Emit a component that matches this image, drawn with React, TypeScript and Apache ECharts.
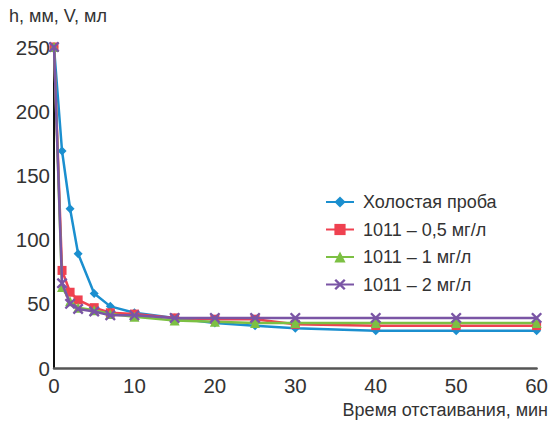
import React, { useEffect, useRef } from "react";
import * as echarts from "echarts";

const times = [0, 1, 2, 3, 5, 7, 10, 15, 20, 25, 30, 40, 50, 60];
const blank = [250, 169, 124, 89, 58, 48, 43, 39, 35, 33, 31, 29, 29, 29];
const dose05 = [250, 76, 59, 53, 47, 43, 42, 39, 38, 38, 34, 33, 33, 33];
const dose1 = [250, 63, 52, 47, 45, 42, 40, 37, 36, 35, 35, 35, 35, 35];
const dose2 = [250, 66, 50, 46, 44, 41, 41, 39, 39, 39, 39, 39, 39, 39];
const seriesNames = ["Холостая проба", "1011 – 0,5 мг/л", "1011 – 1 мг/л", "1011 – 2 мг/л"];
const xTicks = [0, 10, 20, 30, 40, 50, 60];
const yTicks = [0, 50, 100, 150, 200, 250];

const colors = ["#1b8fcf", "#ef4150", "#7cc043", "#7a55a5"];
const xSymbol =
  "path://M1.5,0 L5,3.5 L8.5,0 L10,1.5 L6.5,5 L10,8.5 L8.5,10 L5,6.5 L1.5,10 L0,8.5 L3.5,5 L0,1.5 Z";
const symbols = ["diamond", "rect", "triangle", xSymbol];
const symbolSizes = [9, 9, 10, 11];

export default function App() {
  const ref = useRef<HTMLDivElement>(null);
  useEffect(() => {
    if (!ref.current) return;
    const chart = echarts.init(ref.current, null, { renderer: "svg" });
    const all = [blank, dose05, dose1, dose2];
    const font = "Liberation Sans, Arial, sans-serif";
    chart.setOption({
      animation: false,
      backgroundColor: "#ffffff",
      textStyle: { fontFamily: font },
      grid: { left: 54, right: 14, top: 47, bottom: 57, containLabel: false },
      legend: {
        orient: "vertical",
        left: 325,
        top: 193,
        padding: 0,
        itemWidth: 28,
        itemHeight: 14,
        itemGap: 9.5,
        textStyle: { fontSize: 18, color: "#333", fontFamily: font, padding: [0, 0, 0, 4] },
        data: seriesNames,
      },
      xAxis: {
        type: "value",
        min: 0,
        max: 60,
        interval: 10,
        axisLine: { show: true, lineStyle: { color: "#555", width: 2.5 } },
        axisTick: { show: false },
        splitLine: { show: false },
        axisLabel: {
          fontSize: 20.5,
          color: "#333",
          margin: 7,
          customValues: xTicks,
          formatter: (v: number) => String(v),
        },
      },
      yAxis: {
        type: "value",
        min: 0,
        max: 250,
        interval: 50,
        axisLine: { show: true, lineStyle: { color: "#111", width: 2 } },
        axisTick: { show: false },
        splitLine: { show: false },
        axisLabel: {
          fontSize: 20.5,
          color: "#333",
          margin: 4,
          customValues: yTicks,
          formatter: (v: number) => String(v),
        },
      },
      graphic: [
        {
          type: "text",
          left: 9,
          top: 7,
          style: { text: "h, мм, V, мл", fontSize: 18, fill: "#333", fontFamily: font },
        },
        {
          type: "text",
          right: 3,
          top: 401,
          style: { text: "Время отстаивания, мин", fontSize: 18, fill: "#333", fontFamily: font },
        },
      ],
      series: all.map((vals, i) => ({
        name: seriesNames[i],
        type: "line",
        data: times.map((t, j) => [t, vals[j]]),
        symbol: symbols[i],
        symbolSize: symbolSizes[i],
        showSymbol: true,
        lineStyle: { color: colors[i], width: 2.5 },
        itemStyle: { color: colors[i] },
        z: 2 + i,
      })),
    });
    return () => chart.dispose();
  }, []);
  return <div ref={ref} style={{ width: 551, height: 425, position: "absolute", left: 0, top: 0 }} />;
}
